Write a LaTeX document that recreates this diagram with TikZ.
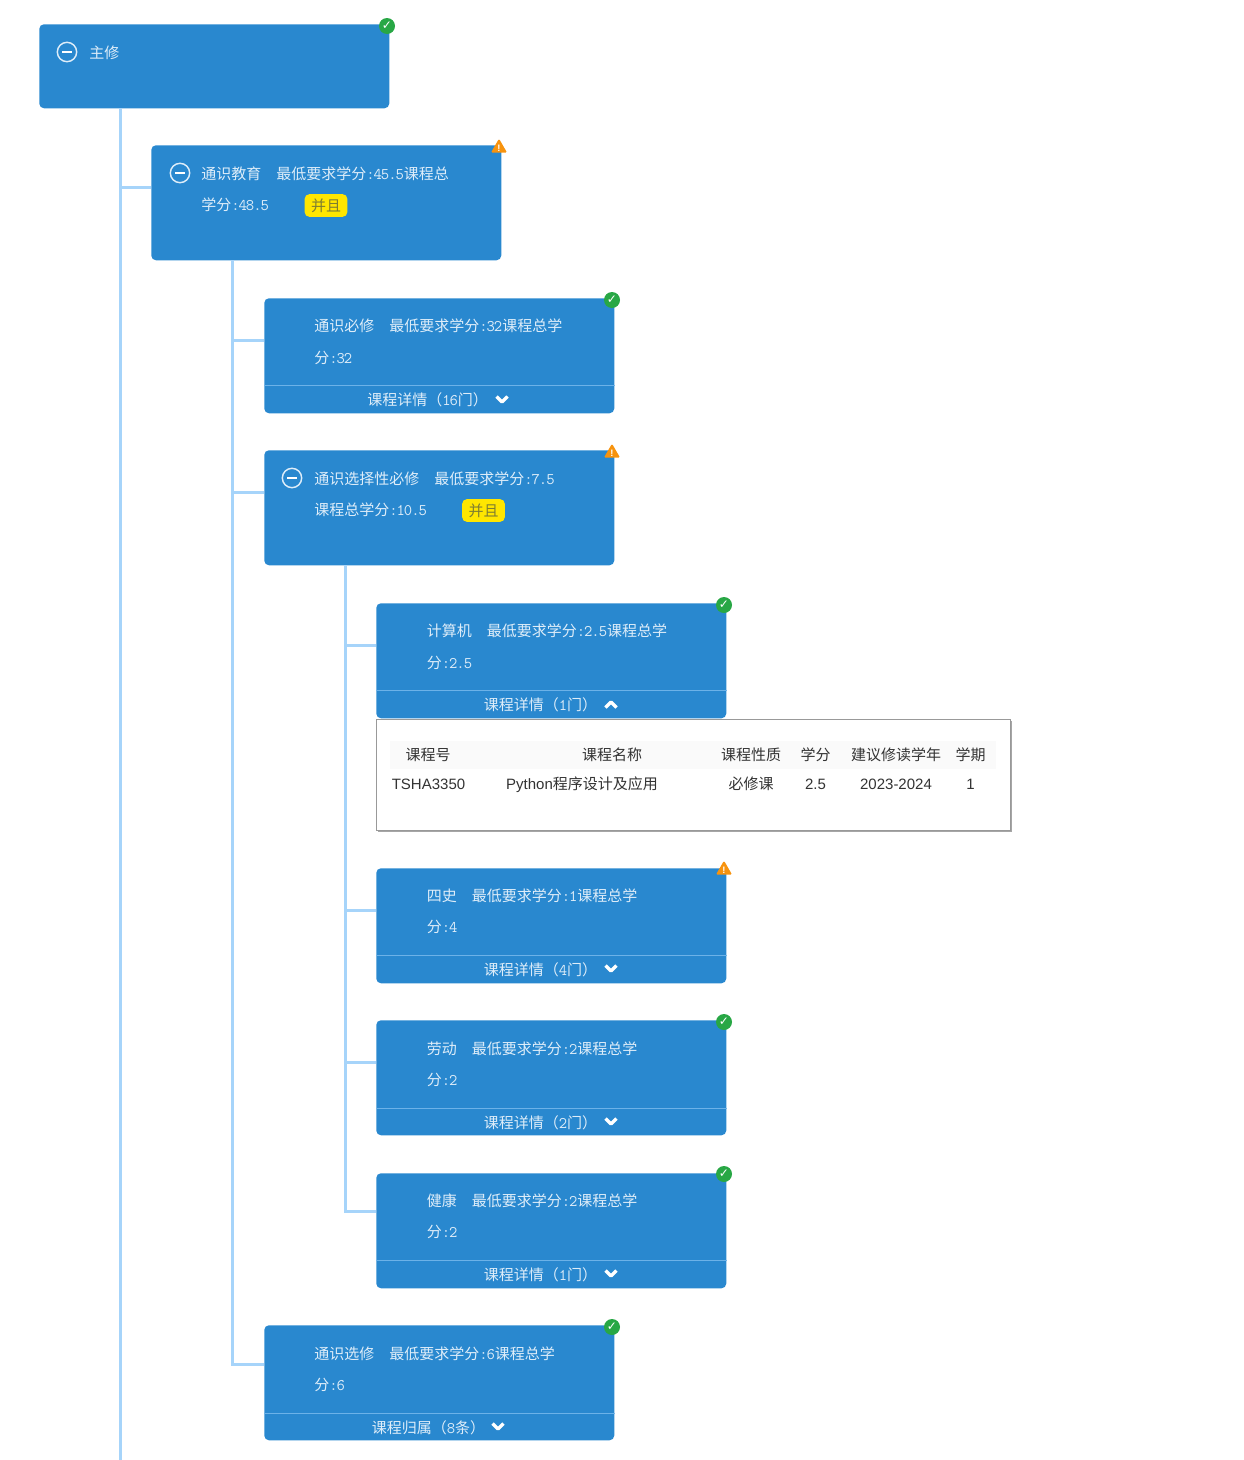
\documentclass[tikz,border=0pt]{standalone}
\usepackage{fontspec}
\setmainfont{Noto Sans CJK SC}
\setsansfont{Liberation Sans}
\setmonofont[Scale=1.08,LetterSpace=-6.2]{Latin Modern Mono}
\newfontfamily\symfont{DejaVu Sans}
\usepackage{xcolor}
\usepackage{tikz}
\usetikzlibrary{shapes.geometric, positioning, calc, shadows}
\definecolor{cBlue}{RGB}{41,136,207}
\definecolor{cLine}{RGB}{166,212,250}
\definecolor{cRule}{RGB}{108,178,232}
\definecolor{cText}{RGB}{222,237,249}
\definecolor{cGreen}{RGB}{40,167,69}
\definecolor{cOrange}{RGB}{247,147,14}
\definecolor{cYellow}{RGB}{255,230,0}
\definecolor{cOlive}{RGB}{125,125,50}
\definecolor{cHead}{RGB}{250,250,250}
\definecolor{cInk}{RGB}{51,51,51}
\newcommand{\nm}[1]{{\ttfamily #1}}
\newcommand{\minusbar}{\rule{7pt}{1.7pt}}
\tikzset{
  card/.style={
    rectangle, rounded corners=3.5pt, fill=cBlue,
    minimum width=262.5pt, minimum height=86.25pt,
    inner sep=0pt, anchor=north west
  },
  cardtext/.style={
    anchor=west, inner sep=0pt, text=cText,
    font=\fontsize{11.25}{11.25}\selectfont, text height=11.1pt, text depth=1pt
  },
  cardrule/.style={cRule, line width=0.6pt},
  treeline/.style={cLine, line width=2.25pt},
  minusicon/.style={
    circle, draw=cText, line width=1.1pt, minimum size=14.5pt,
    inner sep=0pt, text=white
  },
  okbadge/.style={
    circle, fill=cGreen, minimum size=12pt, inner sep=0pt, text=white,
    font=\symfont\fontsize{9}{9}\selectfont
  },
  warnbadge/.style={
    regular polygon, regular polygon sides=3, rounded corners=1pt, fill=cOrange,
    minimum size=14pt, inner sep=0pt, text=white,
    font=\sffamily\bfseries\fontsize{7}{7}\selectfont
  },
  andchip/.style={
    rectangle, rounded corners=3.5pt, fill=cYellow, text=cOlive,
    minimum width=32pt, minimum height=17pt, inner sep=0pt,
    font=\fontsize{11.25}{11.25}\selectfont
  },
  cell/.style={
    inner sep=0pt, text=cInk,
    font=\fontsize{11.25}{11.25}\selectfont, text height=9.6pt, text depth=1pt
  },
  chevdown/.pic={\draw[white, line width=2.6pt, line join=round] (-5.5,-2.5) -- (0,3) -- (5.5,-2.5);},
  chevup/.pic={\draw[white, line width=2.6pt, line join=round] (-5.5,2.5) -- (0,-3) -- (5.5,2.5);}
}
\begin{document}
\begin{tikzpicture}[x=0.75pt,y=-0.75pt]
\useasboundingbox (0,0) rectangle (1244,1460);
% cards
\node[card,minimum height=63pt] (zhuxiu) at (39,24) {};
\node[card] (tongshi) at (151,145) {};
\node[card] (bixiu) at (264,298) {};
\node[card] (xuanze) at (264,450) {};
\node[card] (jisuanji) at (376,603) {};
\node[card] (sishi) at (376,868) {};
\node[card] (laodong) at (376,1020) {};
\node[card] (jiankang) at (376,1173) {};
\node[card] (xuanxiu) at (264,1325) {};
% tree lines
\coordinate (trunkA) at (120,108);
\coordinate (trunkAend) at (120,1460);
\coordinate (trunkB) at (232,260);
\coordinate (trunkC) at (345,565);
\coordinate (tongshiL) at (151,187);
\coordinate (bixiuL) at (264,340);
\coordinate (xuanzeL) at (264,492);
\coordinate (jisuanjiL) at (376,645);
\coordinate (sishiL) at (376,910);
\coordinate (laodongL) at (376,1062);
\coordinate (jiankangL) at (376,1211);
\coordinate (xuanxiuL) at (264,1364);
\draw[treeline] (trunkA) -- (trunkAend);
\draw[treeline] (trunkA |- tongshiL) -- (tongshiL);
\draw[treeline] (trunkB) -- (trunkB |- xuanxiuL) -- (xuanxiuL);
\draw[treeline] (trunkB |- bixiuL) -- (bixiuL);
\draw[treeline] (trunkB |- xuanzeL) -- (xuanzeL);
\draw[treeline] (trunkC) -- (trunkC |- jiankangL) -- (jiankangL);
\draw[treeline] (trunkC |- jisuanjiL) -- (jisuanjiL);
\draw[treeline] (trunkC |- sishiL) -- (sishiL);
\draw[treeline] (trunkC |- laodongL) -- (laodongL);
% card rules
\draw[cardrule] ($(bixiu.south west)+(0,-28)$) -- ($(bixiu.south east)+(0,-28)$);
\draw[cardrule] ($(jisuanji.south west)+(0,-28)$) -- ($(jisuanji.south east)+(0,-28)$);
\draw[cardrule] ($(sishi.south west)+(0,-28)$) -- ($(sishi.south east)+(0,-28)$);
\draw[cardrule] ($(laodong.south west)+(0,-27)$) -- ($(laodong.south east)+(0,-27)$);
\draw[cardrule] ($(jiankang.south west)+(0,-28)$) -- ($(jiankang.south east)+(0,-28)$);
\draw[cardrule] ($(xuanxiu.south west)+(0,-27)$) -- ($(xuanxiu.south east)+(0,-27)$);
% card texts
\node[minusicon] (zhuxiuIcon) at (67,52) {\minusbar};
\node[cardtext] (zhuxiuT) at (89,52) {主修};
\node[minusicon] (tongshiIcon) at (180,173) {\minusbar};
\node[cardtext] (tongshiT) at (201,173) {通识教育　最低要求学分\nm{:45.5}课程总};
\node[cardtext] (tongshiU) at (201,204) {学分\nm{:48.5}};
\node[andchip] (tongshiChip) at (326,205.5) {并且};
\node[cardtext] (bixiuT) at (314,325) {通识必修　最低要求学分\nm{:32}课程总学};
\node[cardtext] (bixiuU) at (314,357) {分\nm{:32}};
\node[cardtext] (bixiuF) at (367,399) {课程详情（\nm{16}门）};
\node[minusicon] (xuanzeIcon) at (292,478) {\minusbar};
\node[cardtext] (xuanzeT) at (314,478) {通识选择性必修　最低要求学分\nm{:7.5}};
\node[cardtext] (xuanzeU) at (314,509) {课程总学分\nm{:10.5}};
\node[andchip] (xuanzeChip) at (483.5,510.5) {并且};
\node[cardtext] (jisuanjiT) at (426.5,630) {计算机　最低要求学分\nm{:2.5}课程总学};
\node[cardtext] (jisuanjiU) at (426.5,662) {分\nm{:2.5}};
\node[cardtext] (jisuanjiF) at (483.5,704) {课程详情（\nm{1}门）};
\node[cardtext] (sishiT) at (426.5,895) {四史　最低要求学分\nm{:1}课程总学};
\node[cardtext] (sishiU) at (426.5,926) {分\nm{:4}};
\node[cardtext] (sishiF) at (483.5,969) {课程详情（\nm{4}门）};
\node[cardtext] (laodongT) at (426.5,1048) {劳动　最低要求学分\nm{:2}课程总学};
\node[cardtext] (laodongU) at (426.5,1079) {分\nm{:2}};
\node[cardtext] (laodongF) at (483.5,1122) {课程详情（\nm{2}门）};
\node[cardtext] (jiankangT) at (426.5,1200) {健康　最低要求学分\nm{:2}课程总学};
\node[cardtext] (jiankangU) at (426.5,1231) {分\nm{:2}};
\node[cardtext] (jiankangF) at (483.5,1274) {课程详情（\nm{1}门）};
\node[cardtext] (xuanxiuT) at (314,1353) {通识选修　最低要求学分\nm{:6}课程总学};
\node[cardtext] (xuanxiuU) at (314,1384) {分\nm{:6}};
\node[cardtext] (xuanxiuF) at (371.5,1427) {课程归属（\nm{8}条）};
\pic at (502,399) {chevdown};
\pic at (611,705) {chevup};
\pic at (611,968) {chevdown};
\pic at (611,1121) {chevdown};
\pic at (611,1273) {chevdown};
\pic at (498,1426) {chevdown};
% badges
\node[okbadge] (zhuxiuB) at (387,26) {✓};
\node[warnbadge] (tongshiB) at (499,148) {!};
\node[okbadge] (bixiuB) at (612,300) {✓};
\node[warnbadge] (xuanzeB) at (612,453) {!};
\node[okbadge] (jisuanjiB) at (724,605) {✓};
\node[warnbadge] (sishiB) at (724,870) {!};
\node[okbadge] (laodongB) at (724,1022) {✓};
\node[okbadge] (jiankangB) at (724,1174) {✓};
\node[okbadge] (xuanxiuB) at (612,1327) {✓};
% course table
\node[rectangle, fill=white, draw=black!40, line width=1pt, inner sep=0pt,
  drop shadow={shadow xshift=0.8pt, shadow yshift=-0.8pt, fill=black, opacity=0.35},
  minimum width=475.5pt, minimum height=83.25pt, anchor=north west] (panel) at (376,719) {};
\node[rectangle, fill=cHead, inner sep=0pt, minimum width=454.5pt, minimum height=21pt, anchor=north west] (tablehead) at (390,741) {};
\node[cell] (hNum) at (428,755) {课程号};
\node[cell] (hName) at (612,755) {课程名称};
\node[cell] (hKind) at (751,755) {课程性质};
\node[cell] (hCredit) at (815.5,755) {学分};
\node[cell] (hYear) at (896,755) {建议修读学年};
\node[cell] (hTerm) at (970.5,755) {学期};
\node[cell] (rNum) at (428.5,784) {\sffamily TSHA3350};
\node[cell] (rName) at (582,784) {{\sffamily Python}程序设计及应用};
\node[cell] (rKind) at (751,784) {必修课};
\node[cell] (rCredit) at (815.5,784) {\sffamily 2.5};
\node[cell] (rYear) at (896,784) {\sffamily 2023-2024};
\node[cell] (rTerm) at (970.5,784) {\sffamily 1};
\end{tikzpicture}
\end{document}
